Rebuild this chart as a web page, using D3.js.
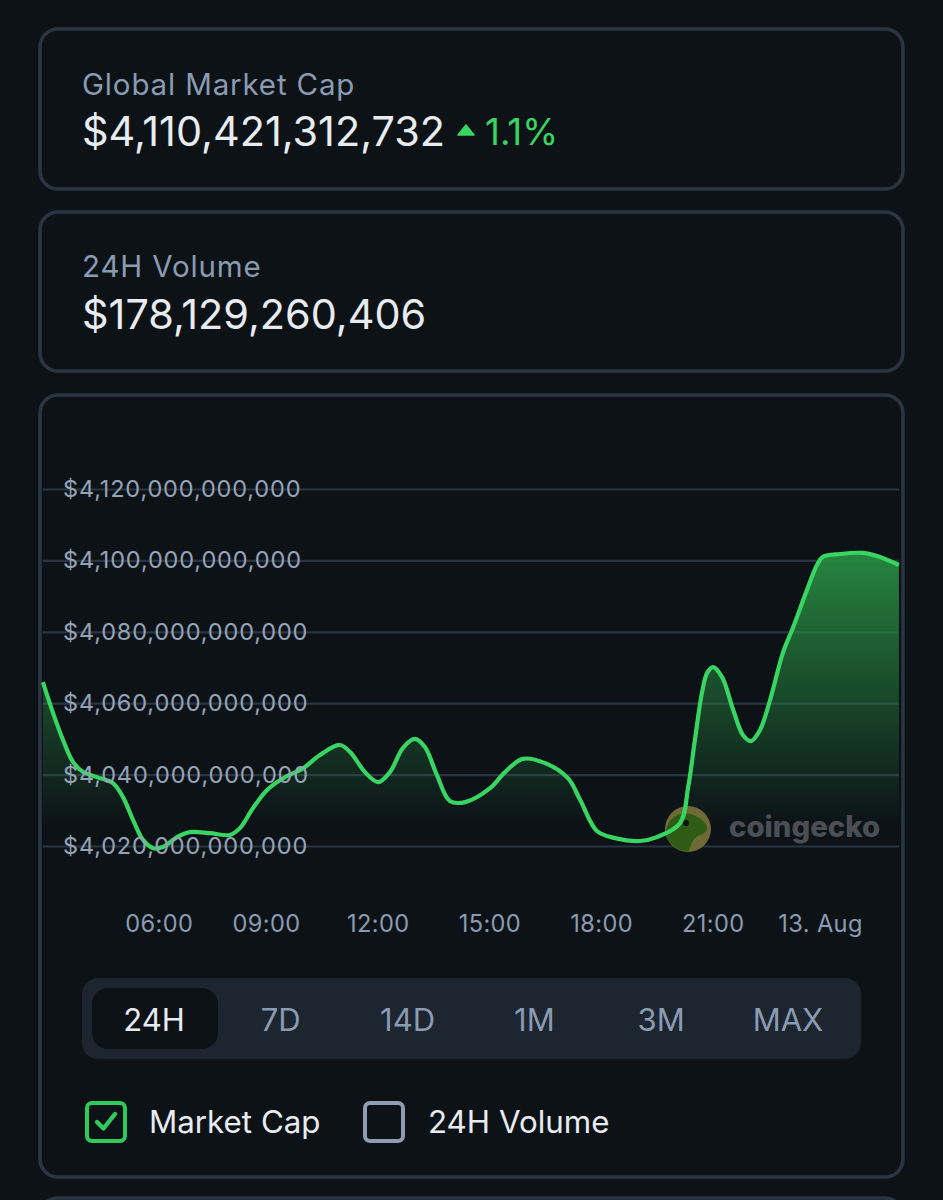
<!DOCTYPE html>
<html><head><meta charset="utf-8">
<script src="https://cdn.jsdelivr.net/npm/d3@7"></script>
<style>
html,body{margin:0;padding:0;background:#0d1217;}
svg{display:block;}
text{font-family:Inter,"Noto Sans",sans-serif;}
</style></head><body>
<svg id="c" width="943" height="1200"></svg>
<script>
const hours=[2.99,3.26,3.53,3.8,4.07,4.44,4.87,5.14,5.41,5.68,5.95,6.21,6.59,6.94,7.48,8.01,8.28,8.63,9.01,9.44,9.98,10.43,10.97,11.24,11.64,11.99,12.31,12.66,12.98,13.25,13.57,13.92,14.33,15,15.4,15.88,16.48,17.09,17.42,17.87,18.36,19.03,19.48,20.1,20.32,20.5,20.69,20.83,20.99,21.23,21.53,21.79,22.01,22.25,22.52,22.87,23.14,23.51,23.78,23.94,24.4,25.02,25.39,25.98];
const marketCapB=[4065.9,4057.3,4049.7,4043.5,4040.7,4039.3,4037.6,4033.7,4027.3,4021.7,4019.4,4019.7,4022.5,4023.9,4023.6,4023.1,4025,4030.6,4035.7,4039,4041.8,4045.5,4048.3,4046.3,4040.7,4037.9,4040.7,4047.5,4050,4047.7,4039.9,4032.6,4032.3,4036.2,4040.7,4044.4,4043.2,4039,4032.9,4024.2,4022.2,4021.4,4022.5,4026.4,4036.5,4049.7,4062.9,4068.5,4070.1,4067.3,4058.1,4051.1,4049.4,4052.5,4060.9,4074.3,4081.3,4091.7,4098.7,4101,4101.8,4102.1,4101.2,4098.7];
const yTicks=[4020,4040,4060,4080,4100,4120];
const xTickHours=[6,9,12,15,18,21,24];
const xTickLabels=["06:00","09:00","12:00","15:00","18:00","21:00","13. Aug"];
const ranges=["24H","7D","14D","1M","3M","MAX"];
const legendNames=["Market Cap","24H Volume"];

const svg=d3.select("#c");
const BG="#0d1217",BORDER="#2a3443",MUTED="#8b9bb2",WHITE="#e8ecf1",GREEN="#38d563",GRID="#2a3442";

// gradient
const defs=svg.append("defs");
const g=defs.append("linearGradient").attr("id","areaFill").attr("gradientUnits","userSpaceOnUse")
  .attr("x1",0).attr("x2",0).attr("y1",552).attr("y2",825);
g.append("stop").attr("offset",0).attr("stop-color","#26853f").attr("stop-opacity",1);
g.append("stop").attr("offset",.45).attr("stop-color","#26853f").attr("stop-opacity",.55);
g.append("stop").attr("offset",1).attr("stop-color","#26853f").attr("stop-opacity",0);

// cards
[[29,160],[212,159],[395,782],[1198,60]].forEach(([y,h])=>{
  svg.append("rect").attr("x",40).attr("y",y).attr("width",863).attr("height",h).attr("rx",18)
    .attr("fill",BG).attr("stroke",BORDER).attr("stroke-width",3.6);
});

// stat text
const T=(x,y,s,size,fill,w)=>svg.append("text").attr("x",x).attr("y",y).text(s)
  .attr("font-size",size).attr("fill",fill).attr("font-weight",w||400);
T(82,95,"Global Market Cap",29.5,MUTED).attr("letter-spacing",0.85);
T(82,146,"$4,110,421,312,732",41.4,WHITE);
svg.append("path").attr("d","M458 135 L466 125 L474 135 Z").attr("fill",GREEN).attr("stroke",GREEN).attr("stroke-width",1.5).attr("stroke-linejoin","round");
T(485,145,"1.1%",36.6,GREEN);
T(82,277,"24H Volume",29.5,MUTED).attr("letter-spacing",0.85);
T(82,329,"$178,129,260,406",41.4,WHITE);

// scales
const x=d3.scaleLinear().domain([6,21]).range([155,713.5]);
const y=d3.scaleLinear().domain([4020,4120]).range([846,489]);
const left=x(hours[0]),right=x(hours[hours.length-1]);

// grid
const gridAxis=d3.axisRight(y).tickValues(yTicks).tickSize(right-left).tickFormat("");
const gg=svg.append("g").attr("transform",`translate(${left},0)`).call(gridAxis);
gg.select(".domain").remove();
gg.selectAll("line").attr("stroke",GRID).attr("stroke-width",2.2);

// area + line
const curve=d3.curveCatmullRom.alpha(0.5);
const area=d3.area().x((d,i)=>x(hours[i])).y0(y(4019)).y1(d=>y(d)).curve(curve);
const line=d3.line().x((d,i)=>x(hours[i])).y(d=>y(d)).curve(curve);
svg.append("path").datum(marketCapB).attr("d",area).attr("fill","url(#areaFill)");

// watermark
const wm=svg.append("g").attr("transform","translate(688,829)");
wm.append("circle").attr("r",23).attr("fill","#6d6a36");
wm.append("path").attr("d","M-16 -10 C-8 -19 6 -16 14 -9 C21 -3 21 3 12 6 C5 9 3 15 1 22 C-8 23 -18 17 -22 7 C-23 0 -20 -6 -16 -10 Z").attr("fill","#2f5c14");
wm.append("circle").attr("cx",-2).attr("cy",-6).attr("r",3).attr("fill","#0d1217");
T(729,837,"coingecko",29.3,"#4b4f55",800);

svg.append("path").datum(marketCapB).attr("d",line).attr("fill","none").attr("stroke",GREEN).attr("stroke-width",4.2).attr("stroke-linejoin","round");

// y labels
const yAxis=d3.axisRight(y).tickValues(yTicks).tickSize(0).tickPadding(0)
  .tickFormat(v=>d3.format("$,.0f")(v*1e9));
const ya=svg.append("g").attr("transform","translate(63,-1)").call(yAxis);
ya.select(".domain").remove();
ya.selectAll("text").attr("font-size",23.5).attr("fill","#95a3b8").attr("font-family","Inter,'Noto Sans',sans-serif").attr("dy","0.36em").attr("letter-spacing",0.85);

// x labels
const xAxis=d3.axisBottom(x).tickValues(xTickHours).tickSize(0).tickPadding(0)
  .tickFormat((d,i)=>xTickLabels[i]);
const xa=svg.append("g").attr("transform","translate(-0.7,913)").call(xAxis);
xa.select(".domain").remove();
xa.selectAll("text").attr("font-size",23.6).attr("fill","#8b9bb2").attr("font-family","Inter,'Noto Sans',sans-serif").attr("dy","0.8em").attr("letter-spacing",0.4)
  .attr("dx",(d,i)=>i===0?4.5:(i===6?-4.5:0));

// range selector
svg.append("rect").attr("x",82).attr("y",978).attr("width",779).attr("height",81).attr("rx",16).attr("fill","#1c2530");
svg.append("rect").attr("x",92).attr("y",988).attr("width",126).attr("height",61).attr("rx",16).attr("fill",BG);
const rangeX=d3.scalePoint().domain(ranges).range([154,788]);
svg.selectAll(".rng").data(ranges).join("text").attr("class","rng")
  .attr("x",d=>rangeX(d)).attr("y",1031).attr("text-anchor","middle").attr("font-size",31)
  .attr("fill",(d,i)=>i===0?WHITE:"#8b9bb2").text(d=>d);

// legend
svg.append("rect").attr("x",87).attr("y",1103).attr("width",38).attr("height",38).attr("rx",5).attr("fill","none").attr("stroke","#2ecb5a").attr("stroke-width",4);
svg.append("path").attr("d","M97 1122 L103.5 1128.5 L115 1114").attr("fill","none").attr("stroke","#2ecb5a").attr("stroke-width",4.4).attr("stroke-linecap","round").attr("stroke-linejoin","round");
svg.append("rect").attr("x",365).attr("y",1103).attr("width",38).attr("height",38).attr("rx",5).attr("fill","none").attr("stroke","#8e9cb4").attr("stroke-width",4);
T(149,1133,legendNames[0],31.3,WHITE);
T(428,1133,legendNames[1],31.3,WHITE);
</script>
</body></html>
